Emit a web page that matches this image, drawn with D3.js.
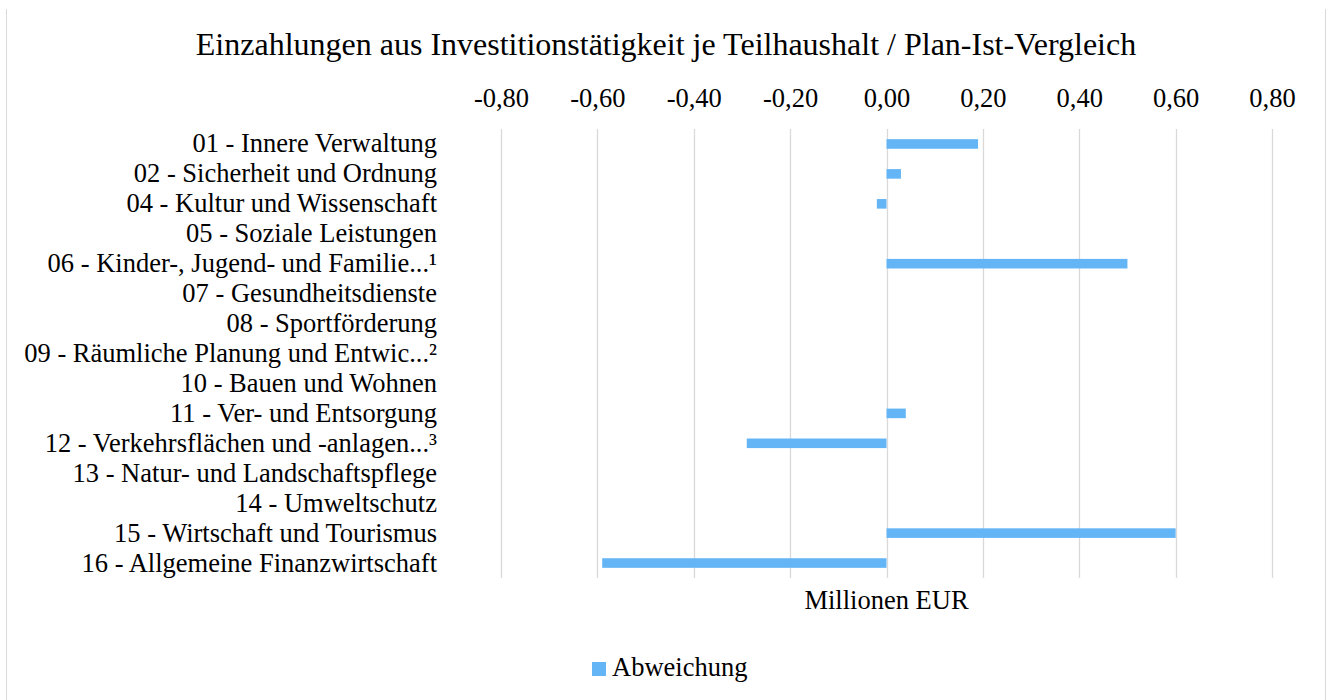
<!DOCTYPE html>
<html>
<head>
<meta charset="utf-8">
<script src="https://cdn.jsdelivr.net/npm/d3@7"></script>
<style>
  body { margin: 0; background: #fff; }
  #chart { width: 1333px; height: 700px; }
</style>
</head>
<body>
<div id="chart"></div>
<script>
var categories = [
    "01 - Innere Verwaltung",
    "02 - Sicherheit und Ordnung",
    "04 - Kultur und Wissenschaft",
    "05 - Soziale Leistungen",
    "06 - Kinder-, Jugend- und Familie...¹",
    "07 - Gesundheitsdienste",
    "08 - Sportförderung",
    "09 - Räumliche Planung und Entwic...²",
    "10 - Bauen und Wohnen",
    "11 - Ver- und Entsorgung",
    "12 - Verkehrsflächen und -anlagen...³",
    "13 - Natur- und Landschaftspflege",
    "14 - Umweltschutz",
    "15 - Wirtschaft und Tourismus",
    "16 - Allgemeine Finanzwirtschaft"
];
var abweichung = [0.19, 0.03, -0.02, 0, 0.50, 0, 0, 0, 0, 0.04, -0.29, 0, 0, 0.60, -0.59];
var tickValues = [-0.8, -0.6, -0.4, -0.2, 0, 0.2, 0.4, 0.6, 0.8];

var title = "Einzahlungen aus Investitionstätigkeit je Teilhaushalt / Plan-Ist-Vergleich";
var axisTitle = "Millionen EUR";
var seriesName = "Abweichung";

var width = 1333, height = 700;
var padding = { left: 501, right: 61, top: 129, bottom: 122 };
var plotWidth = width - padding.left - padding.right;
var plotHeight = height - padding.top - padding.bottom;
var barColor = "#64b5f6";
var font = "'Liberation Serif', 'Times New Roman', serif";
var labelSize = 26.5;

var svg = d3.select("#chart")
    .append("svg")
    .attr("width", width)
    .attr("height", height)
    .style("font-family", font);

// outer frame (only the sides are visible)
svg.append("line").attr("x1", 6.5).attr("x2", 6.5).attr("y1", 9).attr("y2", height)
    .attr("stroke", "#d9d9d9");
svg.append("line").attr("x1", 1325.5).attr("x2", 1325.5).attr("y1", 9).attr("y2", height)
    .attr("stroke", "#d9d9d9");

var x = d3.scaleLinear()
    .domain([-0.8, 0.8])
    .range([0, plotWidth]);
var y = d3.scaleBand()
    .domain(categories)
    .range([0, plotHeight])
    .paddingInner(0.68)
    .paddingOuter(0.34);

var plot = svg.append("g")
    .attr("transform", "translate(" + padding.left + "," + padding.top + ")");

// gridlines
plot.append("g")
    .selectAll("line")
    .data(tickValues)
    .join("line")
    .attr("x1", d => Math.round(x(d)) + 0.5)
    .attr("x2", d => Math.round(x(d)) + 0.5)
    .attr("y1", 0)
    .attr("y2", plotHeight)
    .attr("stroke", "#d9d9d9")
    .attr("stroke-width", 1.3);

// top axis labels
var x_axis = d3.axisTop(x)
    .tickValues(tickValues)
    .tickSize(0)
    .tickPadding(0)
    .tickFormat(d => d3.format(".2f")(d).replace(".", ",").replace("−", "-"));

var xg = plot.append("g")
    .attr("transform", "translate(0,-22)")
    .call(x_axis);
xg.select(".domain").remove();
xg.selectAll("text")
    .attr("font-family", font)
    .attr("font-size", labelSize)
    .attr("fill", "#000");

// bars
plot.append("g")
    .selectAll("rect")
    .data(abweichung)
    .join("rect")
    .attr("x", d => x(Math.min(0, d)))
    .attr("y", (d, i) => y(categories[i]))
    .attr("width", d => Math.abs(x(d) - x(0)))
    .attr("height", y.bandwidth())
    .attr("fill", barColor);

// category labels
var y_axis = d3.axisLeft(y)
    .tickSize(0)
    .tickPadding(64);
var yg = plot.append("g").call(y_axis);
yg.select(".domain").remove();
yg.selectAll("text")
    .attr("font-family", font)
    .attr("font-size", labelSize)
    .attr("fill", "#000");

// title
svg.append("text")
    .attr("x", 666)
    .attr("y", 55)
    .attr("text-anchor", "middle")
    .attr("font-size", 32)
    .attr("fill", "#000")
    .text(title);

// axis title
svg.append("text")
    .attr("x", padding.left + x(0))
    .attr("y", 609)
    .attr("text-anchor", "middle")
    .attr("font-size", labelSize)
    .attr("fill", "#000")
    .text(axisTitle);

// legend
var legend = svg.append("g").attr("transform", "translate(592,662)");
legend.append("rect")
    .attr("width", 14)
    .attr("height", 14)
    .attr("fill", barColor);
legend.append("text")
    .attr("x", 20)
    .attr("y", 14)
    .attr("font-size", labelSize)
    .attr("fill", "#000")
    .text(seriesName);
</script>
</body>
</html>
